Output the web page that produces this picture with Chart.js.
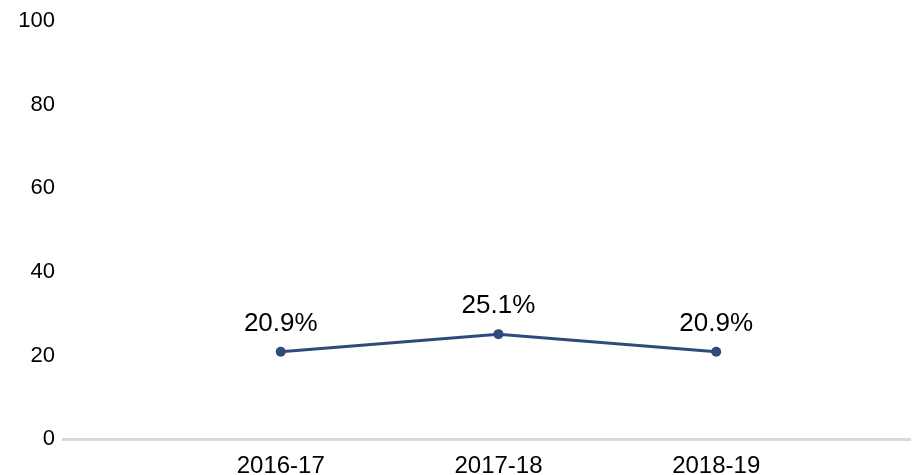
<!DOCTYPE html>
<html>
<head>
<meta charset="utf-8">
<script src="https://cdn.jsdelivr.net/npm/chart.js@4/dist/chart.umd.min.js"></script>
<style>
html,body{margin:0;padding:0;background:#fff;overflow:hidden;}
canvas{display:block;}
</style>
</head>
<body>
<canvas id="c" width="915" height="475"></canvas>
<script>
const categories = ['2016-17', '2017-18', '2018-19'];
const values = [20.9, 25.1, 20.9];
const dataLabels = ['20.9%', '25.1%', '20.9%'];
const yTicks = [0, 20, 40, 60, 80, 100];
const xMax = 3.89; // visible x-range ends before the next (empty) slot

const labelPlugin = {
  id: 'pointLabels',
  afterDatasetsDraw(chart) {
    const ctx = chart.ctx;
    const meta = chart.getDatasetMeta(0);
    ctx.save();
    ctx.font = '26px "Liberation Sans", Arial, sans-serif';
    ctx.fillStyle = '#000';
    ctx.textAlign = 'center';
    ctx.textBaseline = 'alphabetic';
    meta.data.forEach((pt, i) => {
      ctx.fillText(dataLabels[i], pt.x, pt.y - 21);
    });
    ctx.restore();
  }
};

new Chart(document.getElementById('c'), {
  type: 'line',
  data: {
    datasets: [{
      data: values.map((v, i) => ({ x: i + 1, y: v })),
      borderColor: '#2f4b7c',
      backgroundColor: '#2f4b7c',
      borderWidth: 3,
      pointRadius: 5,
      pointHoverRadius: 5,
      pointBackgroundColor: '#2f4b7c',
      pointBorderWidth: 0,
      tension: 0
    }]
  },
  options: {
    responsive: false,
    animation: false,
    events: [],
    layout: { padding: { left: 0, right: 0, top: 18, bottom: 0 } },
    plugins: { legend: { display: false }, tooltip: { enabled: false } },
    scales: {
      x: {
        type: 'linear',
        min: 0, max: xMax,
        afterBuildTicks(axis) { axis.ticks = categories.map((c, i) => ({ value: i + 1 })); },
        afterFit(axis) { axis.height = 36; },
        grid: { display: false, drawTicks: false },
        border: { display: true, color: '#d9d9d9', width: 3 },
        ticks: {
          autoSkip: false, maxRotation: 0, padding: 13,
          color: '#000',
          callback: (v) => categories[v - 1],
          font: { family: '"Liberation Sans", Arial, sans-serif', size: 24 }
        }
      },
      y: {
        min: 0, max: 100,
        afterBuildTicks(axis) { axis.ticks = yTicks.map(v => ({ value: v })); },
        grid: { display: false, drawTicks: false },
        border: { display: false },
        afterFit(axis) { axis.width = 63; },
        ticks: {
          padding: 8,
          color: '#000',
          font: { family: '"Liberation Sans", Arial, sans-serif', size: 22 }
        }
      }
    }
  },
  plugins: [labelPlugin]
});
</script>
</body>
</html>
